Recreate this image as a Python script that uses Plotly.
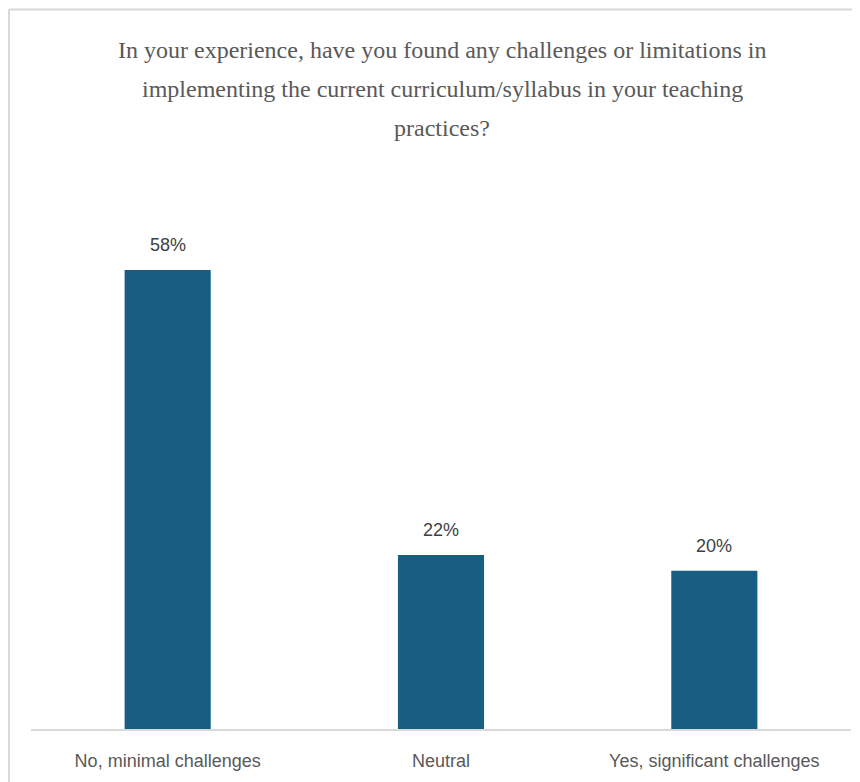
import plotly.graph_objects as go

categories = ["No, minimal challenges", "Neutral", "Yes, significant challenges"]
values = [58, 22, 20]
labels = ["58%", "22%", "20%"]
title_lines = [
    "In your experience, have you found any challenges or limitations in",
    "implementing the current curriculum/syllabus in your teaching",
    "practices?",
]

# page body has an 8px margin; figure is offset by it
OFF = 8
W, H = 860 - OFF, 782 - OFF
ml, mr, mt, mb = 23, 9, 172, 53
px_per_unit = 459 / 58
plot_h = H - mt - mb
plot_w = W - ml - mr
ymax = plot_h / px_per_unit

def px_x(x):
    return (x - OFF - ml) / plot_w

def px_y(y):
    return (H - mb - (y - OFF)) / plot_h

fig = go.Figure()
fig.add_trace(go.Bar(
    x=categories, y=values,
    marker=dict(color="#175E82", line=dict(width=0)),
    width=0.315, hoverinfo="x+y",
))

ann = []
for c, v, t in zip(categories, values, labels):
    ann.append(dict(
        text=t, x=c, y=v, xref="x", yref="y", showarrow=False,
        xanchor="center", yanchor="middle", yshift=25,
        font=dict(family="Liberation Sans, Arial", size=18, color="#404040"),
    ))

line_y = [50, 89, 128]
for t, yy in zip(title_lines, line_y):
    ann.append(dict(
        text=t, x=px_x(442), xref="paper", y=px_y(yy), yref="paper",
        showarrow=False, xanchor="center", yanchor="middle",
        font=dict(family="Liberation Serif, Times New Roman", size=24, color="#595959"),
    ))

fig.update_layout(
    width=W, height=H,
    margin=dict(l=ml, r=mr, t=mt, b=mb),
    plot_bgcolor="white", paper_bgcolor="white",
    showlegend=False,
    annotations=ann,
    xaxis=dict(showline=True, linecolor="#d9d9d9", linewidth=2, ticks="",
               tickfont=dict(family="Liberation Sans, Arial", size=18, color="#595959"),
               ticklabelstandoff=14,
               showgrid=False, zeroline=False),
    yaxis=dict(range=[0, ymax], visible=False, showgrid=False, zeroline=False),
)

# chart border (top and left edges visible)
fig.add_shape(type="line", xref="paper", yref="paper",
              x0=px_x(9), x1=px_x(870), y0=px_y(9.5), y1=px_y(9.5),
              line=dict(color="#d9d9d9", width=2))
fig.add_shape(type="line", xref="paper", yref="paper",
              x0=px_x(9), x1=px_x(9), y0=px_y(9.5), y1=px_y(790),
              line=dict(color="#d9d9d9", width=2))

fig.write_html("out.html")
